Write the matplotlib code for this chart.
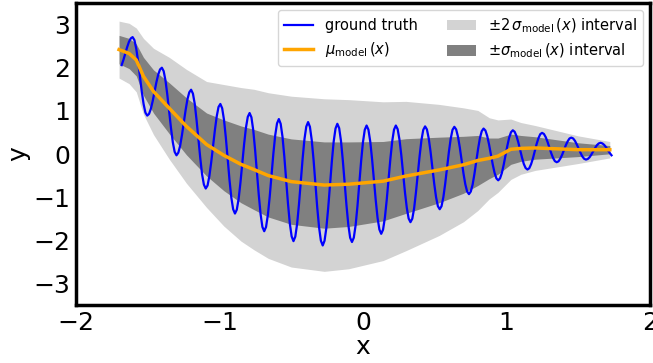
import numpy as np
import matplotlib
matplotlib.use("Agg")
import matplotlib.pyplot as plt

# ground truth curve, values on an even x grid
gt_y = [2.06, 2.185, 2.33, 2.475, 2.60, 2.68, 2.71,
        2.64, 2.44, 2.15, 1.80, 1.45, 1.16, 0.96, 0.89,
        0.93, 1.05, 1.23, 1.445, 1.66, 1.84, 1.96, 2.00,
        1.92, 1.70, 1.37, 0.985, 0.60, 0.27, 0.05, -0.03,
        0.03, 0.19, 0.44, 0.73, 1.02, 1.27, 1.43, 1.49,
        1.40, 1.16, 0.78, 0.345, -0.09, -0.47, -0.71, -0.80,
        -0.73, -0.51, -0.19, 0.18, 0.55, 0.87, 1.09, 1.16,
        1.06, 0.79, 0.38, -0.11, -0.60, -1.01, -1.28, -1.38,
        -1.29, -1.04, -0.66, -0.215, 0.23, 0.61, 0.86, 0.95,
        0.85, 0.55, 0.10, -0.42, -0.94, -1.39, -1.69, -1.79,
        -1.69, -1.41, -0.99, -0.49, 0.01, 0.43, 0.71, 0.81,
        0.70, 0.40, -0.06, -0.605, -1.15, -1.61, -1.91, -2.02,
        -1.915, -1.62, -1.17, -0.64, -0.11, 0.34, 0.635, 0.74,
        0.63, 0.32, -0.14, -0.69, -1.24, -1.70, -2.01, -2.12,
        -2.01, -1.71, -1.25, -0.71, -0.17, 0.29, 0.59, 0.70,
        0.60, 0.30, -0.15, -0.67, -1.19, -1.64, -1.94, -2.04,
        -1.94, -1.65, -1.21, -0.69, -0.17, 0.27, 0.56, 0.66,
        0.565, 0.29, -0.12, -0.595, -1.07, -1.48, -1.75, -1.85,
        -1.755, -1.48, -1.07, -0.595, -0.12, 0.29, 0.565, 0.66,
        0.575, 0.33, -0.03, -0.46, -0.89, -1.25, -1.495, -1.58,
        -1.50, -1.26, -0.89, -0.47, -0.05, 0.32, 0.56, 0.64,
        0.57, 0.36, 0.05, -0.32, -0.69, -1.00, -1.21, -1.28,
        -1.21, -1.00, -0.69, -0.325, 0.04, 0.35, 0.56, 0.63,
        0.57, 0.40, 0.15, -0.15, -0.45, -0.70, -0.87, -0.93,
        -0.87, -0.71, -0.46, -0.17, 0.12, 0.37, 0.53, 0.59,
        0.545, 0.415, 0.22, -0.01, -0.24, -0.435, -0.565, -0.61,
        -0.565, -0.44, -0.25, -0.03, 0.19, 0.38, 0.505, 0.55,
        0.515, 0.415, 0.27, 0.095, -0.08, -0.23, -0.325, -0.36,
        -0.33, -0.235, -0.10, 0.065, 0.23, 0.365, 0.46, 0.49,
        0.465, 0.39, 0.28, 0.15, 0.02, -0.09, -0.165, -0.19,
        -0.17, -0.105, -0.015, 0.095, 0.205, 0.295, 0.36, 0.38,
        0.36, 0.305, 0.22, 0.125, 0.03, -0.055, -0.11, -0.13,
        -0.115, -0.075, -0.01, 0.065, 0.14, 0.205, 0.245, 0.26,
        0.245, 0.21, 0.155, 0.09, 0.025, -0.03]
gt_x = np.linspace(-1.682, 1.732, len(gt_y))

# model mean and std
m_x = [-1.70, -1.63, -1.58, -1.53, -1.46, -1.35, -1.23, -1.09, -0.97, -0.85,
       -0.76, -0.66, -0.50, -0.27, -0.10, 0.14, 0.30, 0.53, 0.70, 0.80,
       0.88, 0.94, 1.03, 1.10, 1.20, 1.35, 1.50, 1.72]
mu = [2.42, 2.33, 2.18, 1.80, 1.45, 1.06, 0.64, 0.22, -0.03, -0.24,
      -0.36, -0.50, -0.64, -0.72, -0.70, -0.63, -0.51, -0.37, -0.25, -0.15,
      -0.10, -0.05, 0.11, 0.13, 0.14, 0.12, 0.10, 0.10]
sigma = [0.33, 0.35, 0.37, 0.44, 0.50, 0.59, 0.66, 0.73, 0.82, 0.89,
         0.93, 0.96, 0.99, 1.00, 0.98, 0.92, 0.865, 0.76, 0.66, 0.58,
         0.47, 0.42, 0.35, 0.30, 0.26, 0.21, 0.16, 0.095]

m_x = np.array(m_x)
mu = np.array(mu)
sigma = np.array(sigma)

fig = plt.figure(figsize=(6.53, 3.63), dpi=100)
ax = fig.add_axes([0.1164, 0.1598, 0.879, 0.8319])

f2 = ax.fill_between(m_x, mu - 2 * sigma, mu + 2 * sigma, color='lightgray', lw=0)
f1 = ax.fill_between(m_x, mu - sigma, mu + sigma, color='gray', lw=0)
l1, = ax.plot(gt_x, gt_y, color='blue', lw=1.6)
l2, = ax.plot(m_x, mu, color='orange', lw=2.5)

ax.legend([l1, l2, f2, f1],
          ['ground truth', r'$\mu_{\mathrm{model}}\,(x)$',
           r'$\pm 2\,\sigma_{\mathrm{model}}\,(x)$ interval',
           r'$\pm\sigma_{\mathrm{model}}\,(x)$ interval'],
          loc='upper right', ncol=2, fontsize=10.5)

ax.set_xlim(-2, 2)
ax.set_ylim(-3.5, 3.5)
ax.set_xticks([-2, -1, 0, 1, 2])
ax.set_yticks([-3, -2, -1, 0, 1, 2, 3])
ax.tick_params(labelsize=18, length=0, pad=4)
ax.set_xlabel('x', fontsize=18, labelpad=0)
ax.set_ylabel('y', fontsize=18, labelpad=2)
for s in ax.spines.values():
    s.set_linewidth(2.5)

fig.savefig('out.png', dpi=100)
